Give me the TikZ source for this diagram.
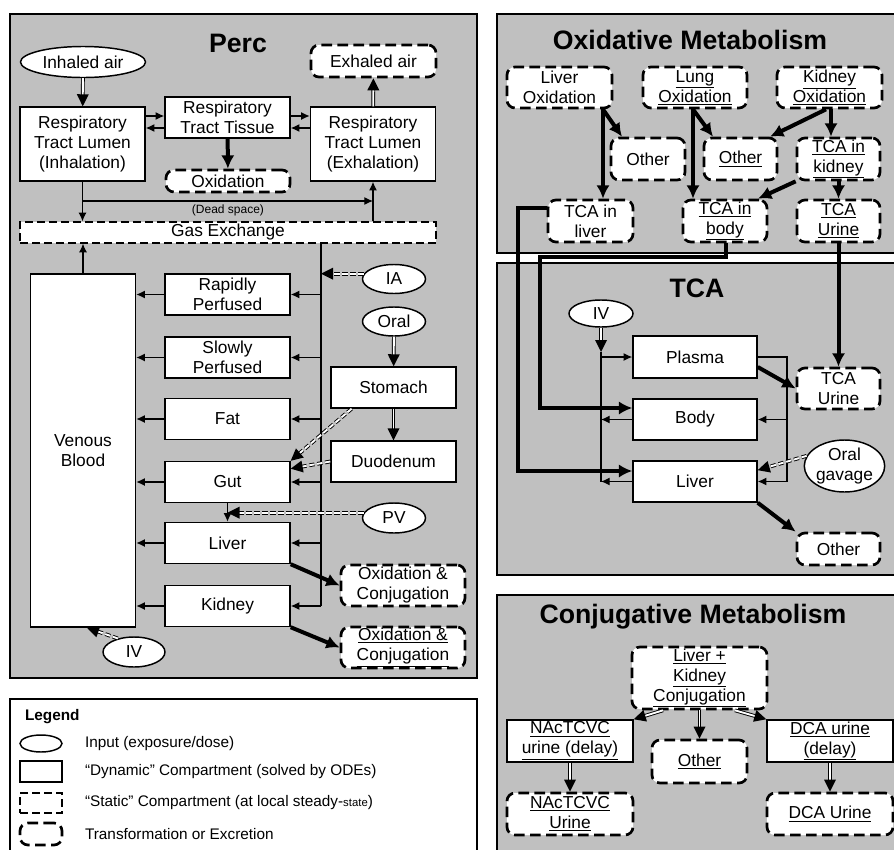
\documentclass[tikz,border=0pt]{standalone}
\usepackage{fontspec}
\setmainfont{Liberation Sans}
\usetikzlibrary{arrows.meta, shapes.geometric, decorations.markings}
\definecolor{panelgray}{RGB}{192,192,192}

\begin{document}
\begin{tikzpicture}[x=0.75pt, y=-0.75pt, >={Latex[length=6.5pt,width=6pt]}, line width=0.9pt,
    font=\fontsize{13}{15}\selectfont]
  \tikzset{
    panel/.style={draw, fill=panelgray, line width=1.5pt},
    sz/.style 2 args={minimum width=#1*0.75pt, minimum height=#2*0.75pt},
    dyn/.style={draw, fill=white, line width=1.1pt, inner sep=0pt, align=center},
    static/.style={draw, fill=white, line width=1pt, dash pattern=on 6pt off 3pt, inner sep=0pt, align=center},
    trans/.style={draw, fill=white, line width=2pt, dash pattern=on 8pt off 4pt, rounded corners=6pt, inner sep=0pt, align=center},
    input/.style={draw, ellipse, fill=white, line width=1.1pt, inner sep=0pt, align=center},
    ttl/.style={font=\bfseries\fontsize{20}{22}\selectfont},
    tarr/.style={line width=3pt, -{Latex[length=10pt,width=10pt]}},
    dblarr/.style={double, double distance=1.4pt, line width=0.7pt, shorten >=7pt,
      postaction={decorate, decoration={markings, mark=at position 1 with
        {\fill[solid] (0pt,0pt) -- (-9pt,4.5pt) -- (-9pt,-4.5pt) -- cycle;}}}},
    ddarr/.style={dblarr, dash pattern=on 4pt off 2pt},
    lgd/.style={font=\fontsize{11.5}{13}\selectfont, anchor=west}
  };
  \useasboundingbox (0,0) rectangle (894,850);

  % panels
  \draw[panel] (10,14) rectangle (477,678);
  \draw[panel] (497,14) rectangle (900,253);
  \draw[panel] (497,263) rectangle (900,575);
  \draw[panel] (497,595) rectangle (900,860);
  \draw[line width=1.5pt, fill=white] (10,699) rectangle (477,860);

  % Perc
  \node[ttl] (perct) at (238,43) {Perc};
  \node[input, sz={125}{31}] (inair) at (83,62) {Inhaled air};
  \node[trans, sz={125}{32}] (exair) at (373.5,61) {Exhaled air};
  \node[dyn, sz={125}{74}] (inh) at (82.5,144) {Respiratory\\Tract Lumen\\(Inhalation)};
  \node[dyn, sz={125}{41}] (rtt) at (227.5,117.5) {Respiratory\\Tract Tissue};
  \node[trans, sz={124}{22}] (oxr) at (228,181) {Oxidation};
  \node[dyn, sz={125}{74}] (exh) at (373,144) {Respiratory\\Tract Lumen\\(Exhalation)};
  \node[static, sz={416}{21}] (gasx) at (228,232.5) {Gas Exchange};
  \node[font=\fontsize{9}{11}\selectfont] (dead) at (228,210) {(Dead space)};
  \node[dyn, sz={105}{353}] (ven) at (83,450.5) {Venous\\Blood};
  \node[dyn, sz={125}{41}] (rap) at (227.5,294.5) {Rapidly\\Perfused};
  \node[dyn, sz={125}{41}] (slow) at (227.5,357.5) {Slowly\\Perfused};
  \node[dyn, sz={125}{41}] (fat) at (227.5,419) {Fat};
  \node[dyn, sz={125}{41}] (gut) at (227.5,482) {Gut};
  \node[dyn, sz={125}{41}] (liv) at (227.5,543) {Liver};
  \node[dyn, sz={125}{41}] (kid) at (227.5,606) {Kidney};
  \node[input, sz={63}{29}] (ia) at (394,279) {IA};
  \node[input, sz={63}{29}] (oral) at (394,321.5) {Oral};
  \node[dyn, sz={125}{41}] (stom) at (393.5,387.5) {Stomach};
  \node[dyn, sz={125}{41}] (duo) at (393.5,461.5) {Duodenum};
  \node[input, sz={63}{30}] (pv) at (394,518) {PV};
  \node[trans, sz={124}{41}] (oxc1) at (403,585.5) {Oxidation \&\\Conjugation};
  \node[trans, sz={124}{41}] (oxc2) at (403,647.5) {\underline{Oxidation \&}\\\underline{Conjugation}};
  \node[input, sz={62}{30}] (iv) at (134,652) {IV};

  \coordinate (art0) at (321,243);
  \coordinate (art1) at (321,606);

  \draw[dblarr] (inair) -- (inh);
  \draw[->] (inh.east |- 0,116) -- (rtt.west |- 0,116);
  \draw[->] (rtt.west |- 0,128) -- (inh.east |- 0,128);
  \draw[->] (rtt.east |- 0,116) -- (exh.west |- 0,116);
  \draw[->] (exh.west |- 0,128) -- (rtt.east |- 0,128);
  \draw[tarr] (rtt) -- (oxr);
  \draw[dblarr] (exh) -- (exair);
  \draw[->] (inh) -- (inh |- gasx.north);
  \draw[->] (inh.south |- 0,201) -- (exh.south |- 0,201);
  \draw[->] (exh.south |- gasx.north) -- (exh);
  \draw[->] (ven) -- (ven |- gasx.south);
  \draw (art0) -- (art1);
  \foreach \org in {rap,slow,fat,gut,liv}
    \draw[->] (\org.east -| art0) -- (\org.east);
  \draw[->] (art1) -- (kid.east);
  \foreach \org in {rap,slow,fat,gut,liv,kid}
    \draw[->] (\org.west) -- (\org.west -| ven.east);
  \draw[ddarr] (ia.170) -- (ia.170 -| art0);
  \draw[dblarr] (oral) -- (stom);
  \draw[dblarr] (stom) -- (duo);
  \draw[ddarr] ([xshift=16pt]stom.south west) -- (gut.north east);
  \draw[ddarr] (duo.west) -- ([yshift=10pt]gut.east);
  \draw[->] (gut) -- (liv);
  \draw[ddarr] (pv.170) -- (pv.170 -| gut.south);
  \draw[tarr] (liv.south east) -- (oxc1.west);
  \draw[tarr] (kid.south east) -- (oxc2.west);
  \draw[ddarr] (iv.140) -- ([xshift=3pt]ven.south);

  % Oxidative metabolism
  \node[ttl] (oxt) at (690,40) {Oxidative Metabolism};
  \node[trans, sz={105}{41}] (lox) at (559.5,87.5) {Liver\\Oxidation};
  \node[trans, sz={104}{41}] (lung) at (695,87.5) {\underline{Lung}\\\underline{Oxidation}};
  \node[trans, sz={105}{41}] (kox) at (829.5,87.5) {\underline{Kidney}\\\underline{Oxidation}};
  \node[trans, sz={74}{42}] (oth1) at (648,159) {Other};
  \node[trans, sz={73}{42}] (oth2) at (740.5,159) {\underline{Other}};
  \node[trans, sz={83}{42}] (tcak) at (838.5,159) {\underline{TCA in}\\\underline{kidney}};
  \node[trans, sz={85}{42}] (tcal) at (590.5,221) {TCA in\\liver};
  \node[trans, sz={84}{42}] (tcab) at (725,221) {\underline{TCA in}\\\underline{body}};
  \node[trans, sz={83}{42}] (tcau) at (838.5,221) {\underline{TCA}\\\underline{Urine}};

  \draw[tarr] (603,0 |- lox.south) -- (603,0 |- tcal.north);
  \draw[tarr] (603,0 |- lox.south) -- (622,0 |- oth1.north);
  \draw[tarr] (693,0 |- lung.south) -- (693,0 |- tcab.north);
  \draw[tarr] (693,0 |- lung.south) -- (713,0 |- oth2.north);
  \draw[tarr] (826,0 |- kox.south) -- (770,0 |- oth2.north);
  \draw[tarr] (831,0 |- kox.south) -- (831,0 |- tcak.north);
  \draw[tarr] (tcak.south west) -- (758,0 |- tcab.north);
  \draw[tarr] (tcak) -- (tcau);

  % TCA
  \node[ttl] (tcat) at (697,288) {TCA};
  \node[input, sz={64}{27}] (tiv) at (601,313.5) {IV};
  \node[dyn, sz={124}{42}] (plasma) at (695,357) {Plasma};
  \node[dyn, sz={124}{41}] (tbody) at (695,419.5) {Body};
  \node[dyn, sz={124}{41}] (tliv) at (695,481.5) {Liver};
  \node[trans, sz={83}{41}] (turine) at (838.5,388.5) {TCA\\Urine};
  \node[input, sz={73}{52}] (gav) at (844.5,466) {Oral\\gavage};
  \node[trans, sz={83}{32}] (toth) at (838.5,549) {Other};

  \coordinate (vtop) at (601,352);
  \coordinate (rtop) at (787,357);
  \draw[dblarr] (tiv) -- (vtop);
  \draw (vtop) -- (vtop |- tliv.west);
  \draw[->] (vtop |- plasma.west) -- (plasma.west);
  \draw[->] (tbody.west) -- (tbody.west -| vtop);
  \draw[->] (tliv.west) -- (tliv.west -| vtop);
  \draw (plasma.east) -- (rtop) -- (rtop |- tliv.east);
  \draw[->] (tbody.east -| rtop) -- (tbody.east);
  \draw[->] (tliv.east -| rtop) -- (tliv.east);
  \draw[tarr] (plasma.east |- 0,367) -- (turine.west);
  \draw[ddarr] (gav.165) -- ([yshift=8.5pt]tliv.east);
  \draw[tarr] (tliv.south east) -- (toth.north west);

  % links between panels
  \draw[tarr] (tcal.west |- 0,208) -- (518,208) |- (tliv.west |- 0,471);
  \draw[tarr] (726,0 |- tcab.south) |- (540,257) |- (tbody.west |- 0,408);
  \draw[tarr] (tcau) -- (turine);

  % Conjugative metabolism
  \node[ttl] (conjt) at (693,617) {Conjugative Metabolism};
  \node[trans, sz={135}{62}] (lkc) at (699.5,678) {\underline{Liver +}\\\underline{Kidney}\\\underline{Conjugation}};
  \node[dyn, sz={126}{42}] (nac) at (570,741) {\underline{NAcTCVC}\\\underline{urine (delay)}};
  \node[trans, sz={95}{43}] (coth) at (699.5,761.5) {\underline{Other}};
  \node[dyn, sz={126}{42}] (dca) at (830,741) {\underline{DCA urine}\\\underline{(delay)}};
  \node[trans, sz={126}{42}] (nacu) at (570,814) {\underline{NAcTCVC}\\\underline{Urine}};
  \node[trans, sz={126}{42}] (dcau) at (830,814) {\underline{DCA Urine}};

  \draw[dblarr] (663,0 |- lkc.south) -- (nac.north east);
  \draw[dblarr] (lkc) -- (coth);
  \draw[dblarr] (735,0 |- lkc.south) -- (dca.north west);
  \draw[dblarr] (nac) -- (nacu);
  \draw[dblarr] (dca) -- (dcau);

  % Legend
  \node[font=\bfseries\fontsize{11.5}{13}\selectfont, anchor=west] (lgdt) at (20,717) {Legend};
  \node[input, sz={42}{17}] (lin) at (41,743.5) {};
  \node[lgd] (tin) at (80,743.5) {Input (exposure/dose)};
  \node[dyn, sz={42}{21}] (ldyn) at (41,771.5) {};
  \node[lgd] (tdyn) at (80,771.5) {“Dynamic” Compartment (solved by ODEs)};
  \node[static, sz={42}{20}] (lsta) at (41,803) {};
  \node[lgd] (tsta) at (80,803) {“Static” Compartment (at local steady-{\fontsize{8.5}{10}\selectfont state})};
  \node[trans, sz={42}{22}] (ltra) at (41,834) {};
  \node[lgd] (ttra) at (80,834) {Transformation or Excretion};
\end{tikzpicture}
\end{document}
